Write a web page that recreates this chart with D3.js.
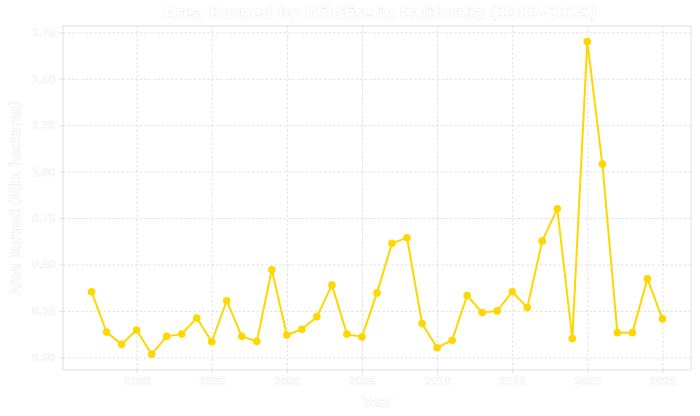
<!DOCTYPE html>
<meta charset="utf-8">
<style>
  body { margin: 0; background: #ffffff; }
  .chart text { font-family: "DejaVu Sans", sans-serif; fill: #ffffff; stroke: #e6e6e6; stroke-width: 0.7px; paint-order: stroke; }
  .axis path, .axis line { stroke: #e0e0e0; }
  .grid line { stroke: #d9d9d9; stroke-dasharray: 2.5,2; stroke-width: 0.8px; }
  .grid path { display: none; }
</style>
<body>
<svg class="chart"></svg>
<script src="https://cdn.jsdelivr.net/npm/d3@7"></script>
<script>

// Data (million hectares)
var years = [1987, 1988, 1989, 1990, 1991, 1992, 1993, 1994, 1995, 1996,
             1997, 1998, 1999, 2000, 2001, 2002, 2003, 2004, 2005, 2006,
             2007, 2008, 2009, 2010, 2011, 2012, 2013, 2014, 2015, 2016,
             2017, 2018, 2019, 2020, 2021, 2022, 2023, 2024, 2025];
var burned = [0.353, 0.136, 0.070, 0.147, 0.016, 0.113, 0.125, 0.212, 0.084, 0.305,
              0.113, 0.086, 0.472, 0.120, 0.151, 0.219, 0.389, 0.125, 0.110, 0.347,
              0.614, 0.644, 0.182, 0.052, 0.092, 0.333, 0.241, 0.250, 0.353, 0.268,
              0.627, 0.800, 0.101, 1.700, 1.041, 0.133, 0.133, 0.423, 0.207];
var xTicks = [1990, 1995, 2000, 2005, 2010, 2015, 2020, 2025];
var yTicks = [0, 0.25, 0.5, 0.75, 1.0, 1.25, 1.5, 1.75];

var data = years.map(function(y, i) { return {year: y, value: burned[i]}; });

// Chart size
var W = 700, H = 416;
var margin = {top: 26, right: 9, bottom: 46, left: 63};
var width = W - margin.left - margin.right;
var height = H - margin.top - margin.bottom;

var svg = d3.select(".chart").attr("width", W).attr("height", H);
var chart = svg.append("g")
    .attr("transform", "translate(" + margin.left + "," + margin.top + ")");

// 5% padding like matplotlib
var xPad = (d3.max(years) - d3.min(years)) * 0.05;
var x = d3.scaleLinear()
    .domain([d3.min(years) - xPad, d3.max(years) + xPad])
    .range([0, width]);
var yPad = (d3.max(burned) - d3.min(burned)) * 0.05;
var y = d3.scaleLinear()
    .domain([d3.min(burned) - yPad, d3.max(burned) + yPad])
    .range([height, 0]);

// grid
chart.append("g").attr("class", "grid")
    .attr("transform", "translate(0," + height + ")")
    .call(d3.axisBottom(x).tickValues(xTicks).tickSize(-height).tickFormat(""));
chart.append("g").attr("class", "grid")
    .call(d3.axisLeft(y).tickValues(yTicks).tickSize(-width).tickFormat(""));

// frame
chart.append("rect")
    .attr("width", width).attr("height", height)
    .attr("fill", "none").attr("stroke", "#e0e0e0");

// axes
var xAxis = chart.append("g").attr("class", "axis")
    .attr("transform", "translate(0," + height + ")")
    .call(d3.axisBottom(x).tickValues(xTicks).tickSize(3.5).tickPadding(4).tickFormat(d3.format("d")));
var yAxis = chart.append("g").attr("class", "axis")
    .call(d3.axisLeft(y).tickValues(yTicks).tickSize(3.5).tickPadding(4).tickFormat(d3.format(".2f")));
xAxis.select(".domain").remove();
yAxis.select(".domain").remove();
chart.selectAll(".axis text").style("font-size", "10.5px");

// labels
svg.append("text")
    .attr("x", margin.left + width / 2 + 3).attr("y", 18)
    .attr("text-anchor", "middle")
    .style("font-size", "15.5px").style("font-weight", "bold")
    .text("Area Burned by Wildfire in California (1987-2025)");
svg.append("text")
    .attr("x", margin.left + width / 2).attr("y", H - 9)
    .attr("text-anchor", "middle")
    .style("font-size", "14px")
    .text("Year");
svg.append("text")
    .attr("transform", "translate(20," + (margin.top + height / 2) + ") rotate(-90)")
    .attr("text-anchor", "middle")
    .style("font-size", "14px")
    .text("Area burned (Mio. hectares)");

// line + points
var line = d3.line()
    .x(function(d) { return x(d.year); })
    .y(function(d) { return y(d.value); });
chart.append("path").datum(data)
    .attr("d", line)
    .attr("fill", "none")
    .attr("stroke", "#ffd700")
    .attr("stroke-width", 2);
chart.selectAll("circle").data(data).enter().append("circle")
    .attr("cx", function(d) { return x(d.year); })
    .attr("cy", function(d) { return y(d.value); })
    .attr("r", 3.8)
    .attr("fill", "#ffd700");

</script>
</body>
